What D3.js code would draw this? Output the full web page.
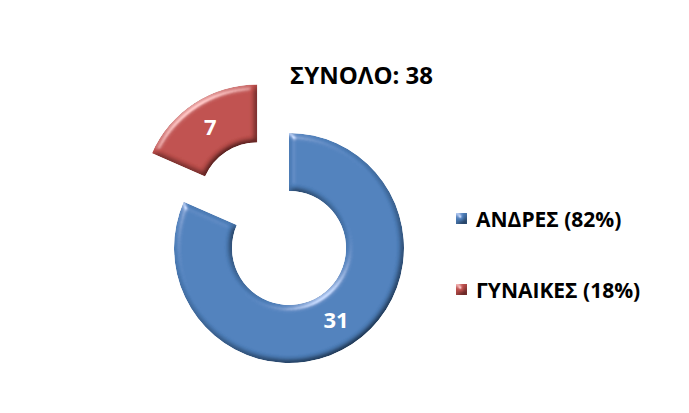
<!DOCTYPE html>
<html>
<head>
<meta charset="utf-8">
<script src="https://cdn.jsdelivr.net/npm/d3@7"></script>
<style>
  body { margin: 0; background: #fff; }
  text { font-family: "Open Sans", "Noto Sans", sans-serif; font-weight: bold; }
</style>
</head>
<body>
<div id="chart-area"></div>
<script>
var categories = ["ΑΝΔΡΕΣ", "ΓΥΝΑΙΚΕΣ"];
var values = [31, 7];
var percents = ["82%", "18%"];
var colors = ["#4F81BD", "#C0504D"];
var title = "ΣΥΝΟΛΟ: 38";

var width = 689, height = 413;
var cx = 289, cy = 248, outerR = 115, innerR = 57, explode = 58;

var svg = d3.select("#chart-area").append("svg").attr("width", width).attr("height", height);

// bevel look
var defs = svg.append("defs");
var f = defs.append("filter").attr("id", "bevel").attr("x", "-10%").attr("y", "-10%").attr("width", "120%").attr("height", "120%");
f.append("feGaussianBlur").attr("in", "SourceAlpha").attr("stdDeviation", 3).attr("result", "blur");
f.append("feDiffuseLighting").attr("in", "blur").attr("surfaceScale", 5).attr("diffuseConstant", 1.15).attr("lighting-color", "#fff").attr("result", "diff")
  .append("feDistantLight").attr("azimuth", 235).attr("elevation", 60);
f.append("feComposite").attr("in", "SourceGraphic").attr("in2", "diff").attr("operator", "arithmetic").attr("k1", 1).attr("k2", 0).attr("k3", 0).attr("k4", 0).attr("result", "shaded");
f.append("feSpecularLighting").attr("in", "blur").attr("surfaceScale", 5).attr("specularConstant", 0.6).attr("specularExponent", 20).attr("lighting-color", "#fff").attr("result", "spec")
  .append("feDistantLight").attr("azimuth", 235).attr("elevation", 20);
f.append("feComposite").attr("in", "spec").attr("in2", "SourceAlpha").attr("operator", "in").attr("result", "specIn");
f.append("feComposite").attr("in", "shaded").attr("in2", "specIn").attr("operator", "arithmetic").attr("k1", 0).attr("k2", 1).attr("k3", 0.8).attr("k4", 0).attr("result", "lit");
f.append("feComposite").attr("in", "lit").attr("in2", "SourceAlpha").attr("operator", "in");

var pie = d3.pie().sort(null).value((d) => d)(values);
var arc = d3.arc().innerRadius(innerR).outerRadius(outerR);

var g = svg.append("g").attr("transform", "translate(" + cx + "," + cy + ")");

var slices = g.selectAll(".slice").data(pie).enter().append("g").attr("class", "slice")
  .attr("transform", (d, i) => {
    if (i == 0) return null;
    var a = (d.startAngle + d.endAngle) / 2;
    return "translate(" + (Math.sin(a) * explode) + "," + (-Math.cos(a) * explode) + ")";
  });

slices.append("path").attr("d", arc).attr("fill", (d, i) => colors[i]).attr("filter", "url(#bevel)");

slices.append("text").attr("transform", (d) => "translate(" + arc.centroid(d) + ")")
  .attr("text-anchor", "middle").attr("dy", "0.36em").attr("font-size", "22px").style("fill", "white")
  .text((d) => d.value);

svg.append("text").attr("x", 290).attr("y", 84).attr("font-size", "24px").style("fill", "black").text(title);

var legend = svg.selectAll(".legend").data(categories).enter().append("g").attr("class", "legend")
  .attr("transform", (d, i) => "translate(456," + (213 + i * 71) + ")");
legend.append("rect").attr("width", 11).attr("height", 11).attr("fill", (d, i) => colors[i]).attr("filter", "url(#bevel)");
legend.append("text").attr("x", 20).attr("y", 14).attr("font-size", "21px").style("fill", "black")
  .text((d, i) => d + " (" + percents[i] + ")");
</script>
</body>
</html>
